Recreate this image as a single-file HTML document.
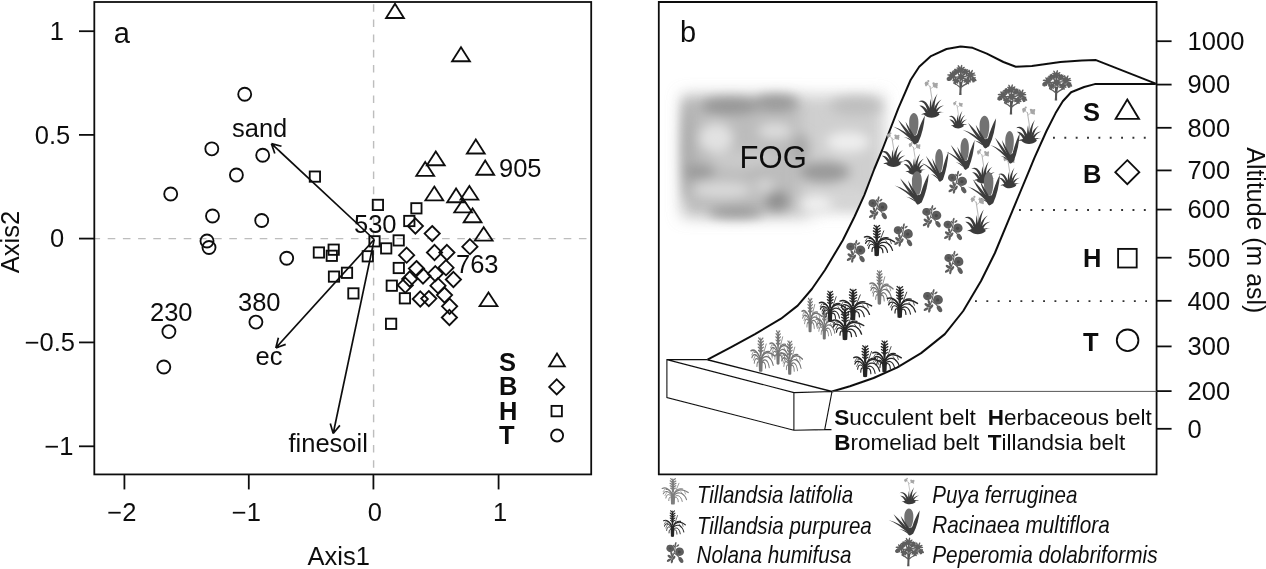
<!DOCTYPE html>
<html lang="en"><head><meta charset="utf-8"><title>Figure</title>
<style>
html,body{margin:0;padding:0;background:#fff;}
body{width:1266px;height:569px;overflow:hidden;}
svg{display:block;font-family:"Liberation Sans", Arial, Helvetica, sans-serif;fill:#111;}
.ln{stroke:#111;fill:none;}
.pt{stroke:#111;fill:none;stroke-width:1.85;}
.t{font-size:25.5px;}
.b{font-size:25.5px;font-weight:bold;}
.it{font-size:24px;font-style:italic;}
</style></head><body>
<svg width="1266" height="569" viewBox="0 0 1266 569">
<defs>
<filter id="blur8" filterUnits="userSpaceOnUse" x="600" y="30" width="400" height="300"><feGaussianBlur stdDeviation="7.5"/></filter>
<filter id="blur5" filterUnits="userSpaceOnUse" x="600" y="30" width="400" height="300"><feGaussianBlur stdDeviation="6"/></filter>
<filter id="soft" filterUnits="userSpaceOnUse" x="0" y="0" width="1266" height="569"><feGaussianBlur stdDeviation="0.5"/></filter>
</defs>
<rect width="1266" height="569" fill="#fff"/>

<defs>
<symbol id="til" viewBox="0 0 31 33" preserveAspectRatio="none" overflow="visible">
<g fill="currentColor" stroke="currentColor" stroke-linecap="round" stroke-linejoin="round">
<path stroke="none" d="M10.6,33 L10.2,25 Q10.8,21 12.7,18.5 Q14.8,21 15.3,25 L14.9,33 Q12.7,34 10.6,33 Z"/>
<path stroke="none" d="M12.8,0.4 L14.2,6 L14.4,12 L13.8,19 L11.8,19 L11.2,12 L11.4,6 Z"/>
<path fill="none" stroke-width="1.35" d="M12.8,3.8 L10.2,1.4 M12.8,3.8 L15.6,1.6 M12.8,6.6 L9.6,4.2 M12.8,6.6 L16.2,4.4 M12.8,9.4 L9.4,7.2 M12.8,9.4 L16.4,7.2 M12.8,12.2 L9.6,10.2 M12.8,12.2 L16.2,10.2 M12.8,15 L10,13.2 M12.8,15 L15.8,13.2"/>
<path fill="none" stroke-width="0.85" d="M14,22 Q17.2,14 19.8,7.2"/>
<path fill="none" stroke-width="1.5" d="M12.7,23.5 C9.5,13.5 4,12 0.4,13.6 M12.7,23.5 C16,13.5 24,14 30.6,18.6"/>
<path fill="none" stroke-width="1.3" d="M12.7,24.5 C8,15.5 3,16 1.6,20.2 M12.7,24.5 C17,16 25.5,18 28.6,27.4 M12.7,22.5 C10.5,16 7.5,14.4 5,15 M12.7,22.5 C15,15.5 20,13.4 24.2,14.4"/>
<path fill="none" stroke-width="1.15" d="M12.7,26 C8.5,18.5 5.2,20.5 4.6,25.4 M12.7,26 C17,19.5 22.2,22 23.6,29.6 M12.7,27 C10,22 8,24 8,28.5 M12.7,27 C16,22 19,25 19,30"/>
<path fill="none" stroke-width="0.75" d="M3.5,14.5 L1.5,17.5 M26,16.5 L27.5,20.5 M6,18 L3.5,22.5 M22,17.5 L25,22"/>
</g></symbol>

<symbol id="puya" viewBox="0 0 26 38" preserveAspectRatio="none" overflow="visible">
<g stroke-linecap="round">
<path fill="none" stroke="#b9b9b9" stroke-width="1.1" d="M14.4,29 C14,22 13,14 11.6,6.5"/>
<path fill="none" stroke="#b0b0b0" stroke-width="0.8" d="M12.2,9 C14,7.5 15.5,6.5 16.6,5.6 M11.7,7 C10.5,5.5 9.5,4.6 8.6,3.8"/>
<g fill="#a6a6a6" stroke="none">
<circle cx="8.2" cy="3.6" r="2"/><circle cx="9.9" cy="1.3" r="1.1"/><circle cx="7.6" cy="5.6" r="0.9"/>
<circle cx="16.9" cy="5.6" r="2.4"/><circle cx="15.2" cy="3.7" r="1.2"/><circle cx="18.6" cy="3.9" r="1"/><circle cx="18.4" cy="7.6" r="0.9"/>
</g>
<g fill="#3b3b3b" stroke="none">
<path d="M0,22.2 C3,19.6 6.5,20.6 9,24.4 C10.6,26.8 12,29.6 13.2,32.2 L9.6,33.4 C9,30 7.8,26.4 5.6,23.8 C4,22 2,21.6 0,22.2 Z"/>
<path d="M0.9,25.8 C4,25.4 6.6,27.4 8.4,29.8 L11.6,33.4 L8,34.6 C6.8,32 4.6,28 0.9,25.8 Z"/>
<path d="M2.4,34.9 C4.6,33.2 7,33 9.6,33.6 L11,36.4 C8,35.2 5,34.4 2.4,34.9 Z"/>
<path d="M19.2,13.6 C17.4,17.6 16.4,22 16.2,26.4 L15.8,32 L12.6,31.4 C13,26 15.2,18.6 19.2,13.6 Z"/>
<path d="M23.2,19.6 C20.4,22 18.8,25.4 18,29 L17.2,33 L14.6,32 C15.6,27 18.6,21.8 23.2,19.6 Z"/>
<path d="M25.6,25.6 C22.6,26.6 20.4,28.8 19,31.6 L17.8,34.4 L15.6,33 C17.4,29.2 21,26 25.6,25.6 Z"/>
<path d="M25.7,32.6 C23,32.4 20.6,33 18.6,34.4 L16.6,36.4 L15.4,34 C18,32 22,31.4 25.7,32.6 Z"/>
<path d="M12.2,19 C12.6,23 13.2,27 14.2,31 L11.2,31.4 C11.2,27 11.4,23 12.2,19 Z"/>
<path d="M5.6,35 C7,32 10,30.6 13.6,30.4 C17,30.4 20,32 21.2,34.8 C19,37 15.8,38 13.2,38 C10.4,38 7.6,37 5.6,35 Z"/>
</g></g></symbol>

<symbol id="rac" viewBox="0 0 32 33" preserveAspectRatio="none" overflow="visible">
<path fill="#727272" d="M20.8,-0.4 C24.2,-0.2 26,5 25.6,11 C25.4,16 24.4,20.4 23,23 L18.2,23 C16.8,19 15.8,13.6 16,9 C16.2,4 18,0 20.8,-0.4 Z"/>
<g fill="#3c3c3c" stroke="none">
<path d="M22.4,32.4 C23.6,22 27.8,10 32.3,2 C31.6,12 29.4,22 25.4,30.6 Z"/>
<path d="M19.6,29.2 C14.6,23 8.6,14.6 4.6,6.6 C10.6,12.8 17.2,20.6 21.4,27 Z"/>
<path d="M20.8,27.2 C17,21.8 13.6,15.2 12.2,8.8 C15.4,14 19.4,20.4 22.6,26.2 Z"/>
<path d="M18.8,28.2 C13.6,23.6 7,17.4 -0.6,13.8 C7,16 13.8,20.6 19.6,26 Z"/>
<path d="M18.8,29.6 C16,27.4 13.4,25.8 10.4,24.8 C14,25.2 17.2,26.6 20,29.2 Z"/>
<path d="M24.6,26 C25.6,21 26.8,17 28.8,13.6 C28.4,18 27.4,22.6 25.6,27.4 Z"/>
<path d="M18,22 C17.8,27 19.2,31.6 21.6,32.8 C24.2,32.4 25.4,27.6 25.2,21.4 C23.6,23.8 19.8,24 18,22 Z"/>
</g></symbol>

<symbol id="nol" viewBox="0 0 20 23" preserveAspectRatio="none" overflow="visible">
<g fill="#5d5d5d" stroke="none">
<path d="M4.6,3 C6.6,2.6 8.4,4 8.8,6 C9.6,7.6 8.8,9.6 7,10.2 C5.6,11.4 3.4,11 2.2,9.8 C0.6,9 0,7 0.8,5.4 C1.2,3.8 2.8,2.8 4.6,3 Z"/>
<path d="M14.4,5.8 C16.6,5.4 18.8,6.8 19.4,9 C20.2,11 19.4,13.4 17.4,14.2 C15.8,15.4 13.4,15.2 12,13.8 C10.2,12.8 9.6,10.4 10.6,8.6 C11.2,6.8 12.6,5.8 14.4,5.8 Z"/>
<ellipse cx="10.6" cy="1.9" rx="0.9" ry="2" transform="rotate(15 10.6 1.9)"/>
<ellipse cx="12.9" cy="3.8" rx="0.9" ry="1.9" transform="rotate(55 12.9 3.8)"/>
<ellipse cx="9" cy="4.4" rx="0.8" ry="1.7" transform="rotate(-40 9 4.4)"/>
<ellipse cx="16.4" cy="19.2" rx="2.2" ry="3.5" transform="rotate(-32 16.4 19.2)"/>
<ellipse cx="4.2" cy="15.6" rx="1.4" ry="2.8" transform="rotate(-55 4.2 15.6)"/>
<ellipse cx="3.4" cy="19.4" rx="1.3" ry="2.7" transform="rotate(60 3.4 19.4)"/>
<ellipse cx="6.6" cy="20.4" rx="1.2" ry="2.5" transform="rotate(10 6.6 20.4)"/>
<ellipse cx="8.6" cy="17" rx="1.3" ry="2.6" transform="rotate(35 8.6 17)"/>
<ellipse cx="6.2" cy="12.6" rx="1.2" ry="2.3" transform="rotate(-20 6.2 12.6)"/>
</g>
<path fill="none" stroke="#5d5d5d" stroke-width="1.1" d="M10.4,2 C10.4,8 9,13 6,18 M9.4,12 C11,13 13,14 15.6,18 M8,14 L5,15.4"/>
<circle cx="14.6" cy="10.6" r="1.6" fill="#484848"/><circle cx="4.8" cy="6.8" r="1.2" fill="#505050"/>
</symbol>

<symbol id="pep" viewBox="0 0 30 31" preserveAspectRatio="none" overflow="visible">
<g fill="#5e5e5e" stroke="none">
<ellipse cx="14.2" cy="7.9" rx="2.4" ry="0.85" transform="rotate(86 14.2 7.9)"/>
<ellipse cx="12.5" cy="7.5" rx="2.5" ry="0.85" transform="rotate(127 12.5 7.5)"/>
<ellipse cx="12.0" cy="6.3" rx="2.2" ry="0.85" transform="rotate(158 12.0 6.3)"/>
<ellipse cx="12.0" cy="4.3" rx="2.3" ry="0.85" transform="rotate(211 12.0 4.3)"/>
<ellipse cx="12.7" cy="3.1" rx="2.8" ry="0.85" transform="rotate(241 12.7 3.1)"/>
<ellipse cx="14.7" cy="2.9" rx="2.7" ry="0.85" transform="rotate(285 14.7 2.9)"/>
<ellipse cx="16.1" cy="4.0" rx="2.6" ry="0.85" transform="rotate(325 16.1 4.0)"/>
<ellipse cx="16.6" cy="5.5" rx="2.6" ry="0.85" transform="rotate(360 16.6 5.5)"/>
<ellipse cx="15.5" cy="7.5" rx="2.5" ry="0.85" transform="rotate(412 15.5 7.5)"/>
<circle cx="14" cy="5.5" r="2.5"/>
<ellipse cx="6.0" cy="8.8" rx="2.2" ry="0.85" transform="rotate(270 6.0 8.8)"/>
<ellipse cx="7.7" cy="9.1" rx="2.5" ry="0.85" transform="rotate(311 7.7 9.1)"/>
<ellipse cx="8.1" cy="10.4" rx="2.2" ry="0.85" transform="rotate(343 8.1 10.4)"/>
<ellipse cx="8.1" cy="12.3" rx="2.4" ry="0.85" transform="rotate(393 8.1 12.3)"/>
<ellipse cx="6.9" cy="13.6" rx="2.7" ry="0.85" transform="rotate(430 6.9 13.6)"/>
<ellipse cx="5.0" cy="13.6" rx="2.7" ry="0.85" transform="rotate(470 5.0 13.6)"/>
<ellipse cx="3.8" cy="12.5" rx="2.7" ry="0.85" transform="rotate(505 3.8 12.5)"/>
<ellipse cx="3.3" cy="10.7" rx="2.7" ry="0.85" transform="rotate(546 3.3 10.7)"/>
<ellipse cx="4.7" cy="9.2" rx="2.2" ry="0.85" transform="rotate(593 4.7 9.2)"/>
<circle cx="6" cy="11" r="2.5"/>
<ellipse cx="25.7" cy="12.4" rx="2.9" ry="0.85" transform="rotate(44 25.7 12.4)"/>
<ellipse cx="23.7" cy="13.1" rx="2.7" ry="0.85" transform="rotate(88 23.7 13.1)"/>
<ellipse cx="22.1" cy="12.5" rx="2.6" ry="0.85" transform="rotate(126 22.1 12.5)"/>
<ellipse cx="21.2" cy="11.0" rx="2.5" ry="0.85" transform="rotate(167 21.2 11.0)"/>
<ellipse cx="21.3" cy="9.1" rx="2.6" ry="0.85" transform="rotate(210 21.3 9.1)"/>
<ellipse cx="22.9" cy="7.8" rx="2.7" ry="0.85" transform="rotate(256 22.9 7.8)"/>
<ellipse cx="24.8" cy="7.9" rx="2.8" ry="0.85" transform="rotate(296 24.8 7.9)"/>
<ellipse cx="26.1" cy="9.4" rx="2.7" ry="0.85" transform="rotate(337 26.1 9.4)"/>
<ellipse cx="26.4" cy="10.6" rx="2.8" ry="0.85" transform="rotate(363 26.4 10.6)"/>
<circle cx="23.6" cy="10.4" r="2.6"/>
<ellipse cx="17.3" cy="12.3" rx="2.7" ry="0.85" transform="rotate(354 17.3 12.3)"/>
<ellipse cx="16.7" cy="13.9" rx="2.5" ry="0.85" transform="rotate(391 16.7 13.9)"/>
<ellipse cx="15.4" cy="15.2" rx="2.7" ry="0.85" transform="rotate(433 15.4 15.2)"/>
<ellipse cx="14.0" cy="14.9" rx="2.4" ry="0.85" transform="rotate(463 14.0 14.9)"/>
<ellipse cx="11.9" cy="14.0" rx="3.0" ry="0.85" transform="rotate(513 11.9 14.0)"/>
<ellipse cx="11.7" cy="12.6" rx="2.9" ry="0.85" transform="rotate(540 11.7 12.6)"/>
<ellipse cx="12.9" cy="10.9" rx="2.4" ry="0.85" transform="rotate(586 12.9 10.9)"/>
<ellipse cx="14.3" cy="9.8" rx="2.9" ry="0.85" transform="rotate(624 14.3 9.8)"/>
<ellipse cx="16.2" cy="10.9" rx="2.4" ry="0.85" transform="rotate(673 16.2 10.9)"/>
<circle cx="14.6" cy="12.6" r="2.8"/>
<ellipse cx="7.7" cy="15.3" rx="2.0" ry="0.85" transform="rotate(213 7.7 15.3)"/>
<ellipse cx="9.0" cy="14.3" rx="2.1" ry="0.85" transform="rotate(258 9.0 14.3)"/>
<ellipse cx="10.6" cy="14.9" rx="1.9" ry="0.85" transform="rotate(309 10.6 14.9)"/>
<ellipse cx="11.2" cy="16.1" rx="1.8" ry="0.85" transform="rotate(350 11.2 16.1)"/>
<ellipse cx="11.3" cy="16.9" rx="2.0" ry="0.85" transform="rotate(374 11.3 16.9)"/>
<ellipse cx="10.5" cy="17.8" rx="1.8" ry="0.85" transform="rotate(413 10.5 17.8)"/>
<ellipse cx="9.1" cy="18.4" rx="2.0" ry="0.85" transform="rotate(460 9.1 18.4)"/>
<ellipse cx="8.2" cy="17.6" rx="1.7" ry="0.85" transform="rotate(495 8.2 17.6)"/>
<ellipse cx="7.6" cy="16.2" rx="1.8" ry="0.85" transform="rotate(547 7.6 16.2)"/>
<circle cx="9.4" cy="16.4" r="2.0"/>
<ellipse cx="22.6" cy="15.9" rx="2.0" ry="0.85" transform="rotate(352 22.6 15.9)"/>
<ellipse cx="22.5" cy="17.0" rx="2.0" ry="0.85" transform="rotate(384 22.5 17.0)"/>
<ellipse cx="21.4" cy="18.1" rx="2.1" ry="0.85" transform="rotate(427 21.4 18.1)"/>
<ellipse cx="20.0" cy="18.2" rx="2.1" ry="0.85" transform="rotate(466 20.0 18.2)"/>
<ellipse cx="18.8" cy="17.1" rx="2.0" ry="0.85" transform="rotate(513 18.8 17.1)"/>
<ellipse cx="18.5" cy="16.1" rx="2.2" ry="0.85" transform="rotate(544 18.5 16.1)"/>
<ellipse cx="19.1" cy="14.9" rx="1.9" ry="0.85" transform="rotate(580 19.1 14.9)"/>
<ellipse cx="20.7" cy="14.2" rx="2.0" ry="0.85" transform="rotate(633 20.7 14.2)"/>
<ellipse cx="21.6" cy="14.8" rx="1.8" ry="0.85" transform="rotate(666 21.6 14.8)"/>
<circle cx="20.6" cy="16.2" r="2.1"/>
<ellipse cx="25.9" cy="15.8" rx="1.3" ry="0.85" transform="rotate(151 25.9 15.8)"/>
<ellipse cx="25.5" cy="14.9" rx="1.6" ry="0.85" transform="rotate(191 25.5 14.9)"/>
<ellipse cx="25.8" cy="14.2" rx="1.6" ry="0.85" transform="rotate(222 25.8 14.2)"/>
<ellipse cx="27.0" cy="13.6" rx="1.6" ry="0.85" transform="rotate(269 27.0 13.6)"/>
<ellipse cx="27.9" cy="13.9" rx="1.6" ry="0.85" transform="rotate(307 27.9 13.9)"/>
<ellipse cx="28.3" cy="15.1" rx="1.3" ry="0.85" transform="rotate(353 28.3 15.1)"/>
<ellipse cx="28.5" cy="15.8" rx="1.6" ry="0.85" transform="rotate(382 28.5 15.8)"/>
<ellipse cx="27.3" cy="16.6" rx="1.4" ry="0.85" transform="rotate(437 27.3 16.6)"/>
<ellipse cx="26.5" cy="16.7" rx="1.5" ry="0.85" transform="rotate(469 26.5 16.7)"/>
<circle cx="27" cy="15.2" r="1.5"/>
<ellipse cx="2.1" cy="15.5" rx="1.2" ry="0.85" transform="rotate(113 2.1 15.5)"/>
<ellipse cx="1.4" cy="15.0" rx="1.3" ry="0.85" transform="rotate(153 1.4 15.0)"/>
<ellipse cx="1.4" cy="14.1" rx="1.2" ry="0.85" transform="rotate(192 1.4 14.1)"/>
<ellipse cx="2.0" cy="13.4" rx="1.1" ry="0.85" transform="rotate(240 2.0 13.4)"/>
<ellipse cx="2.8" cy="13.0" rx="1.4" ry="0.85" transform="rotate(276 2.8 13.0)"/>
<ellipse cx="3.4" cy="13.5" rx="1.2" ry="0.85" transform="rotate(312 3.4 13.5)"/>
<ellipse cx="3.8" cy="14.4" rx="1.2" ry="0.85" transform="rotate(360 3.8 14.4)"/>
<ellipse cx="3.7" cy="15.0" rx="1.3" ry="0.85" transform="rotate(390 3.7 15.0)"/>
<ellipse cx="2.8" cy="15.5" rx="1.2" ry="0.85" transform="rotate(439 2.8 15.5)"/>
<circle cx="2.6" cy="14.4" r="1.3"/>
<ellipse cx="18.3" cy="9.1" rx="1.9" ry="0.85" transform="rotate(113 18.3 9.1)"/>
<ellipse cx="17.3" cy="8.2" rx="1.9" ry="0.85" transform="rotate(155 17.3 8.2)"/>
<ellipse cx="17.4" cy="7.1" rx="1.6" ry="0.85" transform="rotate(190 17.4 7.1)"/>
<ellipse cx="18.0" cy="5.8" rx="1.9" ry="0.85" transform="rotate(238 18.0 5.8)"/>
<ellipse cx="19.1" cy="5.8" rx="1.6" ry="0.85" transform="rotate(275 19.1 5.8)"/>
<ellipse cx="20.1" cy="6.1" rx="1.7" ry="0.85" transform="rotate(309 20.1 6.1)"/>
<ellipse cx="20.8" cy="7.1" rx="1.9" ry="0.85" transform="rotate(351 20.8 7.1)"/>
<ellipse cx="20.2" cy="8.4" rx="1.6" ry="0.85" transform="rotate(402 20.2 8.4)"/>
<ellipse cx="19.6" cy="9.2" rx="1.9" ry="0.85" transform="rotate(432 19.6 9.2)"/>
<circle cx="19" cy="7.4" r="1.8"/>
<ellipse cx="8.7" cy="5.7" rx="1.5" ry="0.85" transform="rotate(236 8.7 5.7)"/>
<ellipse cx="9.5" cy="5.5" rx="1.5" ry="0.85" transform="rotate(265 9.5 5.5)"/>
<ellipse cx="10.7" cy="5.9" rx="1.5" ry="0.85" transform="rotate(316 10.7 5.9)"/>
<ellipse cx="11.1" cy="6.7" rx="1.6" ry="0.85" transform="rotate(348 11.1 6.7)"/>
<ellipse cx="11.0" cy="7.8" rx="1.6" ry="0.85" transform="rotate(390 11.0 7.8)"/>
<ellipse cx="9.9" cy="8.4" rx="1.5" ry="0.85" transform="rotate(438 9.9 8.4)"/>
<ellipse cx="9.2" cy="8.7" rx="1.8" ry="0.85" transform="rotate(462 9.2 8.7)"/>
<ellipse cx="7.9" cy="7.7" rx="1.8" ry="0.85" transform="rotate(518 7.9 7.7)"/>
<ellipse cx="7.8" cy="6.7" rx="1.8" ry="0.85" transform="rotate(550 7.8 6.7)"/>
<circle cx="9.6" cy="7" r="1.7"/>
</g>
<path fill="#555" stroke="none" d="M12.6,17 C13,22 13.2,26 12.6,30.6 L15,30.6 C14.8,26 15,22 16.2,17 Z"/>
<path fill="none" stroke="#5e5e5e" stroke-width="1.3" d="M13.6,23 C11,20.4 9,19.4 7,18.6 M14.6,23 C17,20.4 20,19.4 22,18.4"/>
</symbol>
</defs>
<g id="panelA" filter="url(#soft)">
<line x1="373.6" y1="2.0" x2="373.6" y2="474.4" stroke="#bdbdbd" stroke-width="1.4" stroke-dasharray="7.6 7.6" stroke-dashoffset="13"/>
<line x1="94.3" y1="238.6" x2="591.2" y2="238.6" stroke="#bdbdbd" stroke-width="1.4" stroke-dasharray="7.6 7.6" stroke-dashoffset="1.8"/>
<rect class="ln" x="94.3" y="2.0" width="496.90000000000003" height="472.4" stroke-width="1.8"/>
<line class="ln" x1="79" y1="31.2" x2="94.3" y2="31.2" stroke-width="1.8"/>
<text class="t" x="64" y="40.0" text-anchor="end">1</text>
<line class="ln" x1="79" y1="134.9" x2="94.3" y2="134.9" stroke-width="1.8"/>
<text class="t" x="70.3" y="143.70000000000002" text-anchor="end">0.5</text>
<line class="ln" x1="79" y1="238.6" x2="94.3" y2="238.6" stroke-width="1.8"/>
<text class="t" x="64.2" y="247.4" text-anchor="end">0</text>
<line class="ln" x1="79" y1="342.4" x2="94.3" y2="342.4" stroke-width="1.8"/>
<text class="t" x="75" y="351.2" text-anchor="end">−0.5</text>
<line class="ln" x1="79" y1="446.3" x2="94.3" y2="446.3" stroke-width="1.8"/>
<text class="t" x="73.5" y="455.1" text-anchor="end">−1</text>
<line class="ln" x1="124.4" y1="474.4" x2="124.4" y2="489.4" stroke-width="1.8"/>
<text class="t" x="121.9" y="521.4" text-anchor="middle">−2</text>
<line class="ln" x1="248.8" y1="474.4" x2="248.8" y2="489.4" stroke-width="1.8"/>
<text class="t" x="246.3" y="521.4" text-anchor="middle">−1</text>
<line class="ln" x1="373.4" y1="474.4" x2="373.4" y2="489.4" stroke-width="1.8"/>
<text class="t" x="374.9" y="521.4" text-anchor="middle">0</text>
<line class="ln" x1="498.6" y1="474.4" x2="498.6" y2="489.4" stroke-width="1.8"/>
<text class="t" x="500.1" y="521.4" text-anchor="middle">1</text>
<text class="t" x="338.8" y="564.5" text-anchor="middle">Axis1</text>
<text class="t" transform="translate(19,242) rotate(-90)" text-anchor="middle">Axis2</text>
<text x="113.8" y="42.5" style="font-size:29px">a</text>
<circle class="pt" cx="244.7" cy="94.2" r="6.5"/>
<circle class="pt" cx="211.8" cy="148.8" r="6.5"/>
<circle class="pt" cx="262.7" cy="155.2" r="6.5"/>
<circle class="pt" cx="236.4" cy="175" r="6.5"/>
<circle class="pt" cx="170.7" cy="194" r="6.5"/>
<circle class="pt" cx="212.5" cy="216" r="6.5"/>
<circle class="pt" cx="261.7" cy="220.5" r="6.5"/>
<circle class="pt" cx="207" cy="241" r="6.5"/>
<circle class="pt" cx="209" cy="247.5" r="6.5"/>
<circle class="pt" cx="286.7" cy="258.2" r="6.5"/>
<circle class="pt" cx="168.9" cy="331.6" r="6.5"/>
<circle class="pt" cx="163.8" cy="367" r="6.5"/>
<circle class="pt" cx="255.9" cy="322.1" r="6.5"/>
<path class="pt" d="M395,3.8 L403.9,18.0 L386.1,18.0 Z"/>
<path class="pt" d="M461,47.2 L469.9,61.2 L452.1,61.2 Z"/>
<path class="pt" d="M475.8,139.4 L484.7,153.5 L466.90000000000003,153.5 Z"/>
<path class="pt" d="M435.8,151.4 L444.7,165.2 L426.90000000000003,165.2 Z"/>
<path class="pt" d="M425.2,161.9 L434.09999999999997,175.79999999999998 L416.3,175.79999999999998 Z"/>
<path class="pt" d="M485.2,160.6 L494.09999999999997,174.7 L476.3,174.7 Z"/>
<path class="pt" d="M434.3,186.6 L443.2,200.29999999999998 L425.40000000000003,200.29999999999998 Z"/>
<path class="pt" d="M456.1,188.5 L465.0,202.2 L447.20000000000005,202.2 Z"/>
<path class="pt" d="M469.4,186 L478.29999999999995,199.6 L460.5,199.6 Z"/>
<path class="pt" d="M463.2,198.9 L472.09999999999997,212.29999999999998 L454.3,212.29999999999998 Z"/>
<path class="pt" d="M472.6,208.4 L481.5,222.2 L463.70000000000005,222.2 Z"/>
<path class="pt" d="M483.7,227.2 L492.59999999999997,240.6 L474.8,240.6 Z"/>
<path class="pt" d="M488.5,292.4 L497.4,306.09999999999997 L479.6,306.09999999999997 Z"/>
<rect class="pt" x="309.75" y="171.45" width="10.3" height="10.3"/>
<rect class="pt" x="372.75" y="199.75" width="10.3" height="10.3"/>
<rect class="pt" x="411.25" y="203.15" width="10.3" height="10.3"/>
<rect class="pt" x="404.15000000000003" y="215.85" width="10.3" height="10.3"/>
<rect class="pt" x="369.35" y="236.15" width="10.3" height="10.3"/>
<rect class="pt" x="393.55" y="235.25" width="10.3" height="10.3"/>
<rect class="pt" x="381.05" y="243.25" width="10.3" height="10.3"/>
<rect class="pt" x="313.75" y="247.35" width="10.3" height="10.3"/>
<rect class="pt" x="328.55" y="244.54999999999998" width="10.3" height="10.3"/>
<rect class="pt" x="326.65000000000003" y="250.65" width="10.3" height="10.3"/>
<rect class="pt" x="362.65000000000003" y="251.15" width="10.3" height="10.3"/>
<rect class="pt" x="341.85" y="267.65000000000003" width="10.3" height="10.3"/>
<rect class="pt" x="328.85" y="271.45000000000005" width="10.3" height="10.3"/>
<rect class="pt" x="393.65000000000003" y="262.85" width="10.3" height="10.3"/>
<rect class="pt" x="348.25" y="288.25" width="10.3" height="10.3"/>
<rect class="pt" x="386.65000000000003" y="280.55" width="10.3" height="10.3"/>
<rect class="pt" x="399.75" y="293.15000000000003" width="10.3" height="10.3"/>
<rect class="pt" x="385.95000000000005" y="318.65000000000003" width="10.3" height="10.3"/>
<path class="pt" d="M415.4,218.4 L423.0,226 L415.4,233.6 L407.79999999999995,226 Z"/>
<path class="pt" d="M432.2,226.0 L439.8,233.6 L432.2,241.2 L424.59999999999997,233.6 Z"/>
<path class="pt" d="M469.9,239.1 L477.5,246.7 L469.9,254.29999999999998 L462.29999999999995,246.7 Z"/>
<path class="pt" d="M406.6,247.6 L414.20000000000005,255.2 L406.6,262.8 L399.0,255.2 Z"/>
<path class="pt" d="M434.5,244.9 L442.1,252.5 L434.5,260.1 L426.9,252.5 Z"/>
<path class="pt" d="M446.9,244.9 L454.5,252.5 L446.9,260.1 L439.29999999999995,252.5 Z"/>
<path class="pt" d="M416.5,261.0 L424.1,268.6 L416.5,276.20000000000005 L408.9,268.6 Z"/>
<path class="pt" d="M446,260.09999999999997 L453.6,267.7 L446,275.3 L438.4,267.7 Z"/>
<path class="pt" d="M435.3,266.09999999999997 L442.90000000000003,273.7 L435.3,281.3 L427.7,273.7 Z"/>
<path class="pt" d="M423,268.4 L430.6,276 L423,283.6 L415.4,276 Z"/>
<path class="pt" d="M409.7,271.4 L417.3,279 L409.7,286.6 L402.09999999999997,279 Z"/>
<path class="pt" d="M453.4,271.9 L461.0,279.5 L453.4,287.1 L445.79999999999995,279.5 Z"/>
<path class="pt" d="M438,278.09999999999997 L445.6,285.7 L438,293.3 L430.4,285.7 Z"/>
<path class="pt" d="M405.3,277.59999999999997 L412.90000000000003,285.2 L405.3,292.8 L397.7,285.2 Z"/>
<path class="pt" d="M444.5,287.5 L452.1,295.1 L444.5,302.70000000000005 L436.9,295.1 Z"/>
<path class="pt" d="M420.3,291.4 L427.90000000000003,299 L420.3,306.6 L412.7,299 Z"/>
<path class="pt" d="M428.8,291.0 L436.40000000000003,298.6 L428.8,306.20000000000005 L421.2,298.6 Z"/>
<path class="pt" d="M449.6,298.7 L457.20000000000005,306.3 L449.6,313.90000000000003 L442.0,306.3 Z"/>
<path class="pt" d="M449.4,309.9 L457.0,317.5 L449.4,325.1 L441.79999999999995,317.5 Z"/>
<path class="ln" stroke-width="1.7" d="M374.2,239.5 L271.4,143.6 M271.4,143.6 L281.5,146.3 M271.4,143.6 L274.8,153.5"/>
<path class="ln" stroke-width="1.7" d="M374.2,239.5 L275.8,348 M275.8,348 L278.4,337.8 M275.8,348 L285.7,344.4"/>
<path class="ln" stroke-width="1.7" d="M374.2,239.5 L333.2,433.5 M333.2,433.5 L330.3,423.4 M333.2,433.5 L339.9,425.4"/>
<text class="t" x="232" y="136.6">sand</text>
<text class="t" x="354" y="233">530</text>
<text class="t" x="499" y="177">905</text>
<text class="t" x="456" y="273">763</text>
<text class="t" x="150" y="321.4">230</text>
<text class="t" x="238" y="311.3">380</text>
<text class="t" x="255.5" y="365">ec</text>
<text class="t" x="288.5" y="451.8">finesoil</text>
<text class="b" x="499" y="371.1">S</text>
<text class="b" x="499" y="395.2">B</text>
<text class="b" x="499" y="419.5">H</text>
<text class="b" x="499" y="444.1">T</text>
<path class="pt" d="M557,353.6 L564.8,366.3 L549.2,366.3 Z"/>
<path class="pt" d="M556.7,379.4 L564.2,386.9 L556.7,394.4 L549.2,386.9 Z"/>
<rect class="pt" x="551.5" y="405.9" width="10.4" height="10.4"/>
<circle class="pt" cx="557.1" cy="435.5" r="6"/>
</g>
<g id="panelB" filter="url(#soft)">
<g id="fog">
<g filter="url(#blur8)">
<rect x="682" y="95" width="128" height="122" fill="#bcbcbc"/>
<rect x="800" y="95" width="84" height="116" fill="#cfcfcf"/>
</g>
<g filter="url(#blur5)">
<ellipse cx="730" cy="106" rx="30" ry="8" fill="#949494"/>
<ellipse cx="776" cy="103" rx="22" ry="8" fill="#989898"/>
<ellipse cx="688" cy="150" rx="6" ry="52" fill="#a8a8a8"/>
<ellipse cx="699" cy="172" rx="16" ry="7" fill="#999999"/>
<ellipse cx="736" cy="212" rx="28" ry="6" fill="#969696"/>
<ellipse cx="777" cy="201" rx="12" ry="10" fill="#8e8e8e"/>
<ellipse cx="824" cy="172" rx="26" ry="10" fill="#989898"/>
<ellipse cx="800" cy="148" rx="9" ry="14" fill="#a8a8a8"/>
<ellipse cx="758" cy="168" rx="14" ry="6" fill="#aaaaaa"/>
<ellipse cx="856" cy="106" rx="26" ry="9" fill="#bebebe"/>
<ellipse cx="850" cy="198" rx="22" ry="9" fill="#d6d6d6"/>
<ellipse cx="716" cy="138" rx="17" ry="15" fill="#e2e2e2"/>
<ellipse cx="775" cy="131" rx="17" ry="8" fill="#dedede"/>
<ellipse cx="722" cy="190" rx="30" ry="8" fill="#dadada"/>
<ellipse cx="765" cy="186" rx="9" ry="8" fill="#d4d4d4"/>
<ellipse cx="816" cy="204" rx="16" ry="9" fill="#f0f0f0"/>
<ellipse cx="848" cy="142" rx="22" ry="10" fill="#efefef"/>
<ellipse cx="745" cy="160" rx="34" ry="10" fill="#cacaca"/>
</g></g>
<text x="739.6" y="168" style="font-size:31px">FOG</text>
<path class="ln" stroke-width="1.8" d="M1156.6,2.0 L658.8,2.0 L658.8,474.4 L1156.6,474.4 Z"/>
<line class="ln" x1="1156.6" y1="41.2" x2="1171.6" y2="41.2" stroke-width="1.8"/>
<text class="t" x="1187.6" y="50.0">1000</text>
<line class="ln" x1="1156.6" y1="84.6" x2="1171.6" y2="84.6" stroke-width="1.8"/>
<text class="t" x="1187.6" y="93.39999999999999">900</text>
<line class="ln" x1="1156.6" y1="127.8" x2="1171.6" y2="127.8" stroke-width="1.8"/>
<text class="t" x="1187.6" y="136.6">800</text>
<line class="ln" x1="1156.6" y1="170.4" x2="1171.6" y2="170.4" stroke-width="1.8"/>
<text class="t" x="1187.6" y="179.20000000000002">700</text>
<line class="ln" x1="1156.6" y1="209.6" x2="1171.6" y2="209.6" stroke-width="1.8"/>
<text class="t" x="1187.6" y="218.4">600</text>
<line class="ln" x1="1156.6" y1="257.7" x2="1171.6" y2="257.7" stroke-width="1.8"/>
<text class="t" x="1187.6" y="266.5">500</text>
<line class="ln" x1="1156.6" y1="300.8" x2="1171.6" y2="300.8" stroke-width="1.8"/>
<text class="t" x="1187.6" y="309.6">400</text>
<line class="ln" x1="1156.6" y1="346.4" x2="1171.6" y2="346.4" stroke-width="1.8"/>
<text class="t" x="1187.6" y="355.2">300</text>
<line class="ln" x1="1156.6" y1="391.1" x2="1171.6" y2="391.1" stroke-width="1.8"/>
<text class="t" x="1187.6" y="399.90000000000003">200</text>
<line class="ln" x1="1156.6" y1="428.8" x2="1171.6" y2="428.8" stroke-width="1.8"/>
<text class="t" x="1187.6" y="437.6">0</text>
<text class="t" transform="translate(1246.7,147.3) rotate(90)" textLength="166" lengthAdjust="spacingAndGlyphs">Altitude (m asl)</text>
<text x="680" y="42.3" style="font-size:29px">b</text>
<path d="M707.5,359.7 L731.2,347.1 L755,334.1 L781,318.7 L797.7,305.6 L811.9,289 L825,270 L842.8,240.2 L854.6,216.5 L864.3,195.1 L874.3,169 L882.2,150 L898.3,108.3 L910.6,80 L919.2,66.8 L931,56.1 L946.5,49 L960.7,46.6 L972.6,47.8 L986.8,53.7 L1003.4,62 L1015.8,66.8 L1031.9,66.1 L1060.4,62 L1081.8,60.4 L1096,60.1 L1155.8,83.6 L1155.8,84 L1094.8,84.1 L1084.1,87 L1071.1,92.2 L1062.8,101.2 L1055.6,113.1 L1046.5,131 L1034.3,158.2 L1030,168.7 L1012.4,210.8 L994.9,253 L981,281 L963.2,311 L944.8,334.1 L921.1,353.1 L897.4,367.3 L873.6,378 L849.9,386.3 L832,391.5 Z" fill="#fff" stroke="none"/>
<path class="ln" stroke-width="2" stroke-linejoin="round" d="M707.5,359.7 L731.2,347.1 L755,334.1 L781,318.7 L797.7,305.6 L811.9,289 L825,270 L842.8,240.2 L854.6,216.5 L864.3,195.1 L874.3,169 L882.2,150 L898.3,108.3 L910.6,80 L919.2,66.8 L931,56.1 L946.5,49 L960.7,46.6 L972.6,47.8 L986.8,53.7 L1003.4,62 L1015.8,66.8 L1031.9,66.1 L1060.4,62 L1081.8,60.4 L1096,60.1 L1155.8,83.6"/>
<path class="ln" stroke-width="2" stroke-linejoin="round" d="M1155.8,84 L1094.8,84.1 L1084.1,87 L1071.1,92.2 L1062.8,101.2 L1055.6,113.1 L1046.5,131 L1034.3,158.2 L1030,168.7 L1012.4,210.8 L994.9,253 L981,281 L963.2,311 L944.8,334.1 L921.1,353.1 L897.4,367.3 L873.6,378 L849.9,386.3 L832,391.5"/>
<path class="ln" stroke-width="1.1" d="M707.5,359.6 L666.9,359.6 L666.9,397.6 L793.9,430.2 L824.7,429.6 L832,391.5 M824.7,429.6 L831.5,429.6 M666.9,359.6 L793.9,392.6 L832,391.5 M793.9,392.6 L793.9,430.2"/>
<path class="ln" stroke-width="1.4" d="M707.5,359.7 L832,391.5"/>
<line x1="832" y1="391.4" x2="1156.6" y2="391.4" stroke="#555" stroke-width="1"/>
<line x1="1053" y1="137.8" x2="1147" y2="137.8" stroke="#333" stroke-width="1.9" stroke-dasharray="1.9 9.45"/>
<line x1="1019" y1="210" x2="1147" y2="210" stroke="#333" stroke-width="1.9" stroke-dasharray="1.9 9.45"/>
<line x1="975" y1="301.1" x2="1147" y2="301.1" stroke="#333" stroke-width="1.9" stroke-dasharray="1.9 9.45"/>
<text class="b" x="1083" y="121.4">S</text>
<text class="b" x="1083" y="182.7">B</text>
<text class="b" x="1083" y="267.1">H</text>
<text class="b" x="1083" y="350.6">T</text>
<path class="pt" d="M1127.3,99.6 L1139,118.9 L1115.6,118.9 Z"/>
<path class="pt" d="M1127.3,160.2 L1139.3,172.2 L1127.3,184.2 L1115.3,172.2 Z"/>
<rect class="pt" x="1118.1" y="248.9" width="18.6" height="18.6"/>
<circle class="pt" cx="1127.6" cy="340.3" r="10.8"/>
<text style="font-size:22.5px" x="834.3" y="424.9"><tspan font-weight="bold">S</tspan>ucculent belt</text>
<text style="font-size:22.5px" x="987.8" y="424.9"><tspan font-weight="bold">H</tspan>erbaceous belt</text>
<text style="font-size:22.5px" x="834.3" y="450.4"><tspan font-weight="bold">B</tspan>romeliad belt</text>
<text style="font-size:22.5px" x="987.8" y="450.4"><tspan font-weight="bold">T</tspan>illandsia belt</text>
<text class="it" x="696.9" y="502.7" textLength="156.2" lengthAdjust="spacingAndGlyphs">Tillandsia latifolia</text>
<text class="it" x="696.9" y="533.8" textLength="174.9" lengthAdjust="spacingAndGlyphs">Tillandsia purpurea</text>
<text class="it" x="696.5" y="562.9" textLength="155" lengthAdjust="spacingAndGlyphs">Nolana humifusa</text>
<text class="it" x="932.2" y="502.9" textLength="145.2" lengthAdjust="spacingAndGlyphs">Puya ferruginea</text>
<text class="it" x="932.2" y="532.8" textLength="177.5" lengthAdjust="spacingAndGlyphs">Racinaea multiflora</text>
<text class="it" x="932.2" y="562.7" textLength="225.4" lengthAdjust="spacingAndGlyphs">Peperomia dolabriformis</text>
<g id="plants">
<use href="#pep" x="946.4" y="64.4" width="30.3" height="31"/>
<use href="#pep" x="997" y="84" width="30.3" height="31"/>
<use href="#pep" x="1042" y="69.8" width="30.3" height="31"/>
<use href="#puya" x="918.5" y="79.8" width="25.8" height="38"/>
<use href="#puya" x="948.8" y="100.8" width="18.5" height="27.6"/>
<use href="#puya" x="1016" y="106.2" width="25.6" height="37.7"/>
<use href="#rac" x="893.7" y="113.5" width="30.9" height="31.2"/>
<use href="#rac" x="963.3" y="116.2" width="32.5" height="32.4"/>
<use href="#puya" x="998.2" y="155.8" width="22.1" height="32.5"/>
<use href="#rac" x="991" y="131.3" width="28.5" height="32.5"/>
<use href="#puya" x="881" y="132.1" width="24.6" height="34.8"/>
<use href="#rac" x="946.7" y="138.4" width="27.7" height="31.7"/>
<use href="#puya" x="903.2" y="141.6" width="23" height="33.2"/>
<use href="#rac" x="922.2" y="149.5" width="26.1" height="32.5"/>
<use href="#puya" x="971.3" y="148.7" width="23.7" height="34.8"/>
<use href="#rac" x="895.3" y="171.7" width="33.2" height="33.2"/>
<use href="#rac" x="968.1" y="172.5" width="31.6" height="33.2"/>
<use href="#nol" x="947.5" y="170.9" width="19.8" height="23"/>
<use href="#puya" x="964.5" y="195.5" width="26.1" height="38.8"/>
<use href="#nol" x="868" y="196.3" width="19.8" height="23.5"/>
<use href="#nol" x="921.8" y="205" width="19.8" height="23"/>
<use href="#nol" x="943.1" y="217.7" width="19.8" height="23"/>
<use href="#nol" x="893.3" y="223.2" width="19.8" height="23.6"/>
<use href="#nol" x="845.8" y="239.8" width="19.8" height="23"/>
<use href="#nol" x="943.9" y="250.9" width="19.8" height="23.6"/>
<use href="#nol" x="922.6" y="289" width="20.6" height="23.8"/>
<use href="#til" x="864" y="224" width="30.9" height="31.7" style="color:#262626"/>
<use href="#til" x="869.6" y="269.2" width="23.8" height="34.9" style="color:#757575"/>
<use href="#til" x="887" y="285.1" width="30.9" height="32.4" style="color:#262626"/>
<use href="#til" x="801.6" y="296.9" width="20.6" height="34.8" style="color:#757575"/>
<use href="#til" x="815.8" y="305.6" width="20.6" height="33.3" style="color:#757575"/>
<use href="#til" x="819" y="289.8" width="26.9" height="31.7" style="color:#262626"/>
<use href="#til" x="839.6" y="287.9" width="32.4" height="32" style="color:#262626"/>
<use href="#til" x="831.6" y="307.2" width="32.5" height="32.5" style="color:#262626"/>
<use href="#til" x="769.6" y="329.2" width="20.5" height="34.9" style="color:#757575"/>
<use href="#til" x="750.6" y="336.4" width="24.5" height="34.8" style="color:#757575"/>
<use href="#til" x="780.6" y="339.5" width="22.2" height="34.8" style="color:#757575"/>
<use href="#til" x="872.4" y="339.5" width="29.3" height="32.5" style="color:#262626"/>
<use href="#til" x="853.4" y="344.3" width="28.5" height="32.4" style="color:#262626"/>
<use href="#til" x="661.9" y="477.4" width="26.7" height="26.8" style="color:#7e7e7e"/>
<use href="#til" x="663.3" y="509.6" width="22.3" height="27" style="color:#262626"/>
<use href="#nol" x="665.9" y="542.1" width="18.3" height="21.4"/>
<use href="#puya" x="899.5" y="477.7" width="19.9" height="26.6"/>
<use href="#rac" x="889.2" y="508.9" width="30.2" height="26.8"/>
<use href="#pep" x="894.9" y="537.3" width="29.1" height="29.3"/>
</g>
</g>
</svg></body></html>
